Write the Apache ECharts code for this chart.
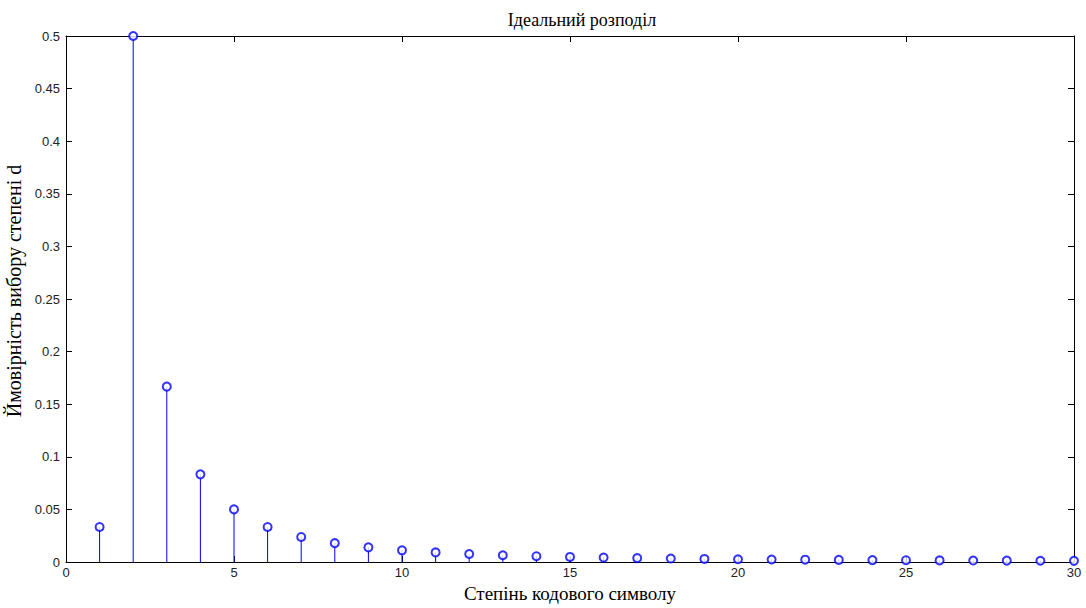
<!DOCTYPE html>
<html><head><meta charset="utf-8">
<script src="https://cdn.jsdelivr.net/npm/echarts@6/dist/echarts.min.js"></script>
<style>html,body{margin:0;padding:0;background:#fff}#c{width:1086px;height:608px}</style>
</head><body><div id="c"></div>
<script>
const degrees = [1,2,3,4,5,6,7,8,9,10,11,12,13,14,15,16,17,18,19,20,21,22,23,24,25,26,27,28,29,30];
const probabilities = [0.0333,0.5,0.1667,0.0833,0.05,0.0333,0.0238,0.0179,0.0139,0.0111,0.0091,0.0076,0.0064,0.0055,0.0048,0.0042,0.0037,0.0033,0.0029,0.0026,0.0024,0.0022,0.0020,0.0018,0.0017,0.0015,0.0014,0.0013,0.0012,0.0011];
const titleText = 'Ідеальний розподіл';
const xName = 'Степінь кодового символу';
const yName = 'Ймовірність вибору степені d';

const pts = degrees.map((d,i)=>[d, probabilities[i]]);
const chart = echarts.init(document.getElementById('c'), null, {renderer:'svg'});
const tickFont = {fontFamily:'Liberation Sans, Arial', fontSize:13, color:'#222'};
function line(){ return {show:true, onZero:false, lineStyle:{color:'#000', width:1}}; }
function ticks(){ return {show:true, inside:true, length:6, lineStyle:{color:'#000', width:1}}; }
chart.setOption({
  animation:false,
  title:{text:titleText, left:577, textAlign:'center', top:6, textStyle:{fontFamily:'Liberation Serif, Times New Roman', fontSize:18, fontWeight:'normal', color:'#000'}},
  grid:{left:66, right:12, top:36, bottom:46, containLabel:false, outerBoundsMode:'none'},
  xAxis:[{type:'value', min:0, max:30, interval:5, position:'bottom',
    name:xName, nameLocation:'middle', nameGap:22,
    nameTextStyle:{fontFamily:'Liberation Serif, Times New Roman', fontSize:19, color:'#000'},
    axisLine:line(), axisTick:ticks(),
    axisLabel:Object.assign({margin:4}, tickFont), splitLine:{show:false}},
    {type:'value', min:0, max:30, interval:5, position:'top',
    axisLine:line(), axisTick:ticks(),
    axisLabel:{show:false}, splitLine:{show:false}}],
  yAxis:[{type:'value', min:0, max:0.5, interval:0.05, position:'left',
    name:yName, nameLocation:'middle', nameGap:28,
    nameTextStyle:{fontFamily:'Liberation Serif, Times New Roman', fontSize:20, color:'#000', padding:[0,0,0,16]},
    axisLine:line(), axisTick:ticks(),
    axisLabel:Object.assign({margin:6, formatter:v=>String(+v.toFixed(2))}, tickFont), splitLine:{show:false}},
    {type:'value', min:0, max:0.5, interval:0.05, position:'right',
    axisLine:line(), axisTick:ticks(),
    axisLabel:{show:false}, splitLine:{show:false}}],
  series:[
    {type:'custom', xAxisIndex:0, yAxisIndex:0, data:pts, z:2,
     renderItem:function(params, api){
       const top = api.coord([api.value(0), api.value(1)]);
       const base = api.coord([api.value(0), 0]);
       return {type:'line', shape:{x1:base[0], y1:base[1], x2:top[0], y2:top[1]}, style:{stroke:'#0000ff', lineWidth:1, fill:null}};
     }},
    {type:'scatter', xAxisIndex:0, yAxisIndex:0, data:pts, symbol:'emptyCircle', symbolSize:8, z:3,
     itemStyle:{color:'#0000ff', borderColor:'#0000ff', borderWidth:1}}
  ]
});
</script></body></html>
